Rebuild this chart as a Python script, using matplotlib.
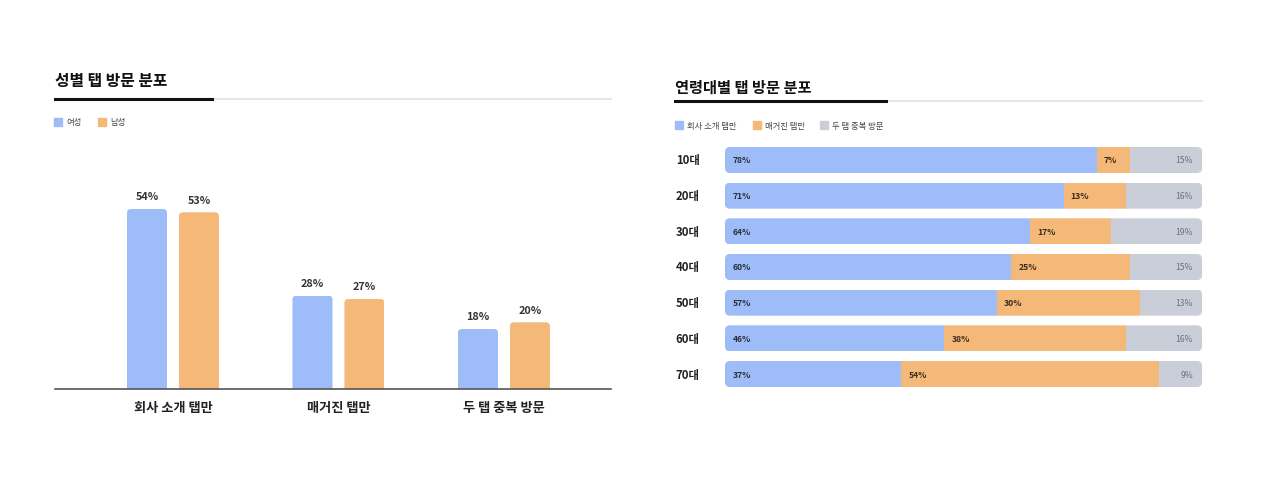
import matplotlib
matplotlib.use('Agg')
import matplotlib.pyplot as plt
from matplotlib.lines import Line2D
from matplotlib.patches import FancyBboxPatch
import numpy as np

plt.rcParams['font.family'] = ['Noto Sans CJK KR', 'DejaVu Sans']

# ---- data ----
gender_title = '성별 탭 방문 분포'
gender_cats = ['회사 소개 탭만', '매거진 탭만', '두 탭 중복 방문']
gender_series = ['여성', '남성']
female = [54, 28, 18]
male = [53, 27, 20]

age_title = '연령대별 탭 방문 분포'
age_groups = ['10대', '20대', '30대', '40대', '50대', '60대', '70대']
age_series = ['회사 소개 탭만', '매거진 탭만', '두 탭 중복 방문']
company_only = [78, 71, 64, 60, 57, 46, 37]
magazine_only = [7, 13, 17, 25, 30, 38, 54]
both_tabs = [15, 16, 19, 15, 13, 16, 9]

BLUE = '#9dbcf8'
ORANGE = '#f4b878'
GRAY = '#c9ced9'

W, H = 1266, 502
fig = plt.figure(figsize=(W / 100, H / 100), dpi=100, facecolor='white')


def fx(x):
    return x / W


def fy(y):
    return 1 - y / H


def header(x0, x_dark, x1, y_title, y_line, title, size):
    fig.text(fx(x0), fy(y_title), title, fontsize=size, fontweight='bold',
             color='#111111', ha='left', va='center')
    fig.add_artist(Line2D([fx(x_dark), fx(x1)], [fy(y_line), fy(y_line)],
                          color='#e6e7ea', lw=1.5))
    fig.add_artist(Line2D([fx(x0), fx(x_dark)], [fy(y_line), fy(y_line)],
                          color='#111111', lw=2.2))


def legend_item(x, y, color, label):
    fig.add_artist(Line2D([fx(x)], [fy(y)], marker='s', markersize=5.2,
                          color=color, lw=0))
    fig.text(fx(x + 8), fy(y), label, fontsize=6, color='#444444',
             ha='left', va='center')


# ---- left: gender grouped bars ----
header(55, 212, 611, 81, 100, gender_title, 11.4)
legend_item(58, 123, BLUE, gender_series[0])
legend_item(102, 123, ORANGE, gender_series[1])

ax1 = fig.add_axes([fx(55), fy(390), fx(611) - fx(55), (390 - 150) / H])
x = np.arange(len(gender_cats))
bw = 0.242
off = 0.157
ax1.set_xlim(-0.713, 2.647)
ax1.set_ylim(0, 72)
xpx = 165.5  # px per x unit
ypx = 240 / 72  # px per y unit
for vals, color, sign in [(female, BLUE, -1), (male, ORANGE, 1)]:
    bars = ax1.bar(x + sign * off, vals, width=bw, color=color, zorder=2)
    for b, v in zip(bars, vals):
        clip = FancyBboxPatch((b.get_x(), -3), bw, v + 3,
                              boxstyle='round,pad=0,rounding_size=%f' % (4 / xpx),
                              mutation_aspect=xpx / ypx,
                              transform=ax1.transData)
        b.set_clip_path(clip)
        ax1.annotate('%d%%' % v, (b.get_x() + bw / 2, v), xytext=(0, 9),
                     textcoords='offset points', ha='center', va='center',
                     fontsize=7.8, fontweight='bold', color='#333333')
for s in ['top', 'left', 'right']:
    ax1.spines[s].set_visible(False)
ax1.spines['bottom'].set_color('#555555')
ax1.spines['bottom'].set_linewidth(1.2)
ax1.set_yticks([])
ax1.set_xticks(x)
ax1.set_xticklabels(gender_cats, fontsize=9.5, fontweight='bold', color='#222222')
ax1.tick_params(axis='x', length=0, pad=8)

# ---- right: age stacked bars ----
header(675, 886, 1202, 88, 102, age_title, 11)
legend_item(679, 126, BLUE, age_series[0])
legend_item(757, 126, ORANGE, age_series[1])
legend_item(824, 126, GRAY, age_series[2])

ax2 = fig.add_axes([fx(725), fy(392.85), fx(1202) - fx(725), (392.85 - 143.15) / H])
ax2.set_xlim(0, 100)
ax2.set_ylim(len(age_groups) - 0.5, -0.5)
ax2.axis('off')
y = np.arange(len(age_groups))
bh = 0.73
xpx2 = 477 / 100
ypx2 = (392.85 - 143.15) / 7
left = np.zeros(len(age_groups))
for vals, color in [(company_only, BLUE), (magazine_only, ORANGE), (both_tabs, GRAY)]:
    bars = ax2.barh(y, vals, left=left, height=bh, color=color)
    for i, b in enumerate(bars):
        clip = FancyBboxPatch((0, y[i] - bh / 2), 100, bh,
                              boxstyle='round,pad=0,rounding_size=%f' % (5 / xpx2),
                              mutation_aspect=xpx2 / ypx2,
                              transform=ax2.transData)
        b.set_clip_path(clip)
    left = left + np.array(vals)

for i in range(len(age_groups)):
    ax2.text(-10.3, y[i], age_groups[i], fontsize=8.2, fontweight='bold',
             color='#222222', ha='left', va='center', clip_on=False)
    ax2.text(8 / xpx2, y[i], '%d%%' % company_only[i], fontsize=6.2,
             fontweight='bold', color='#2b2f3a', ha='left', va='center')
    ax2.text(company_only[i] + 7 / xpx2, y[i], '%d%%' % magazine_only[i],
             fontsize=6.2, fontweight='bold', color='#3a2a1a', ha='left', va='center')
    ax2.text(100 - 9 / xpx2, y[i], '%d%%' % both_tabs[i], fontsize=6.2,
             fontweight='medium', color='#6b7280', ha='right', va='center')

fig.savefig('out.png', dpi=100, facecolor='white')
